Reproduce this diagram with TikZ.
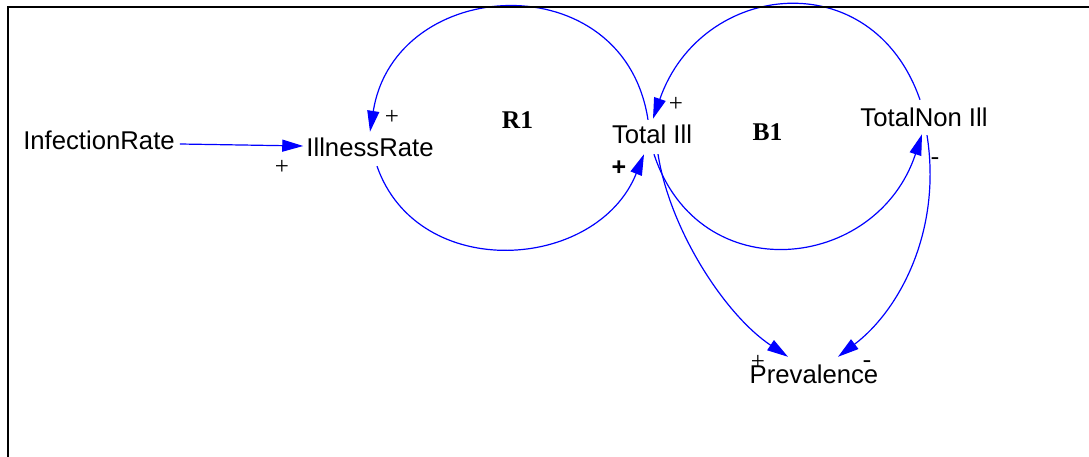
\documentclass[tikz,border=0pt]{standalone}
\usepackage{fontspec}
\setmainfont{Liberation Sans}
\newfontfamily\signserif{Liberation Serif}
\usetikzlibrary{arrows.meta}
\definecolor{linkblue}{RGB}{0,0,255}
\begin{document}
\begin{tikzpicture}[x=1pt,y=-1pt,
  var/.style={anchor=base, inner sep=0pt, text height=19pt, text depth=0pt,
    font=\fontsize{25.7}{30}\selectfont},
  loopname/.style={anchor=base, inner sep=0pt,
    font=\signserif\bfseries\fontsize{25.5}{30}\selectfont},
  sign/.style={inner sep=0pt, font=\signserif\fontsize{25}{28}\selectfont},
  boldsign/.style={inner sep=0pt, font=\bfseries\fontsize{25}{28}\selectfont},
  dashsign/.style={anchor=base, inner sep=0pt, font=\signserif\fontsize{25}{28}\selectfont},
  link/.style={linkblue, line width=1.2pt, -{Triangle[length=21pt,width=12pt]}},
]
\useasboundingbox (0,0) rectangle (1089,457);
\fill[white] (0,0) rectangle (1089,457);

% variables
\node[var] (inf) at (99,149.5) {InfectionRate};
\node[var] (ill) at (370,157) {IllnessRate};
\node[var] (ti) at (652,144) {Total Ill};
\node[var] (tn) at (924,127) {TotalNon Ill};
\node[var] (pv) at (814,383) {Prevalence};

% loop identifiers
\node[loopname] (r1) at (517.5,129) {R1};
\node[loopname] (b1) at (767.5,141) {B1};

% causal links
\draw[link] ([shift={(5,4)}]inf.east) -- ([shift={(-3,-1.5)}]ill.west);
\draw[link] ([shift={(-4,-5)}]ti.north) .. controls +(-24,-157) and +(25,-157) .. ([shift={(0,-6)}]ill.north);
\draw[link] ([shift={(7,9)}]ill.south) .. controls +(41,117) and +(-47,117) .. ([shift={(-8,10)}]ti.south);
\draw[link] ([shift={(-4,-8)}]tn.north) .. controls +(-48,-138) and +(48,-138) .. ([shift={(1,-6)}]ti.north);
\draw[link] ([shift={(2,10)}]ti.south) .. controls +(45,137) and +(-45,137) .. ([shift={(-2,7)}]tn.south);
\draw[link] ([shift={(6,10)}]ti.south) .. controls +(12,76) and +(-63,-42) .. ([shift={(-26,-7)}]pv.north);
\draw[link] ([shift={(3,8)}]tn.south) .. controls +(15,95) and +(62,-47) .. ([shift={(24,-7)}]pv.north);

% link polarities
\node[sign] (p1) at (392,117) {+};
\node[sign] (p2) at (282,167) {+};
\node[sign] (p3) at (676,104) {+};
\node[boldsign] (p4) at (619,168) {+};
\node[dashsign] (m1) at (935,165) {-};
\node[sign] (p5) at (758,362) {+};
\node[dashsign] (m2) at (867,367) {-};

% frame
\draw[line width=2.2pt] (7.7,457) -- (7.7,7) -- (1089,7);
\end{tikzpicture}
\end{document}
